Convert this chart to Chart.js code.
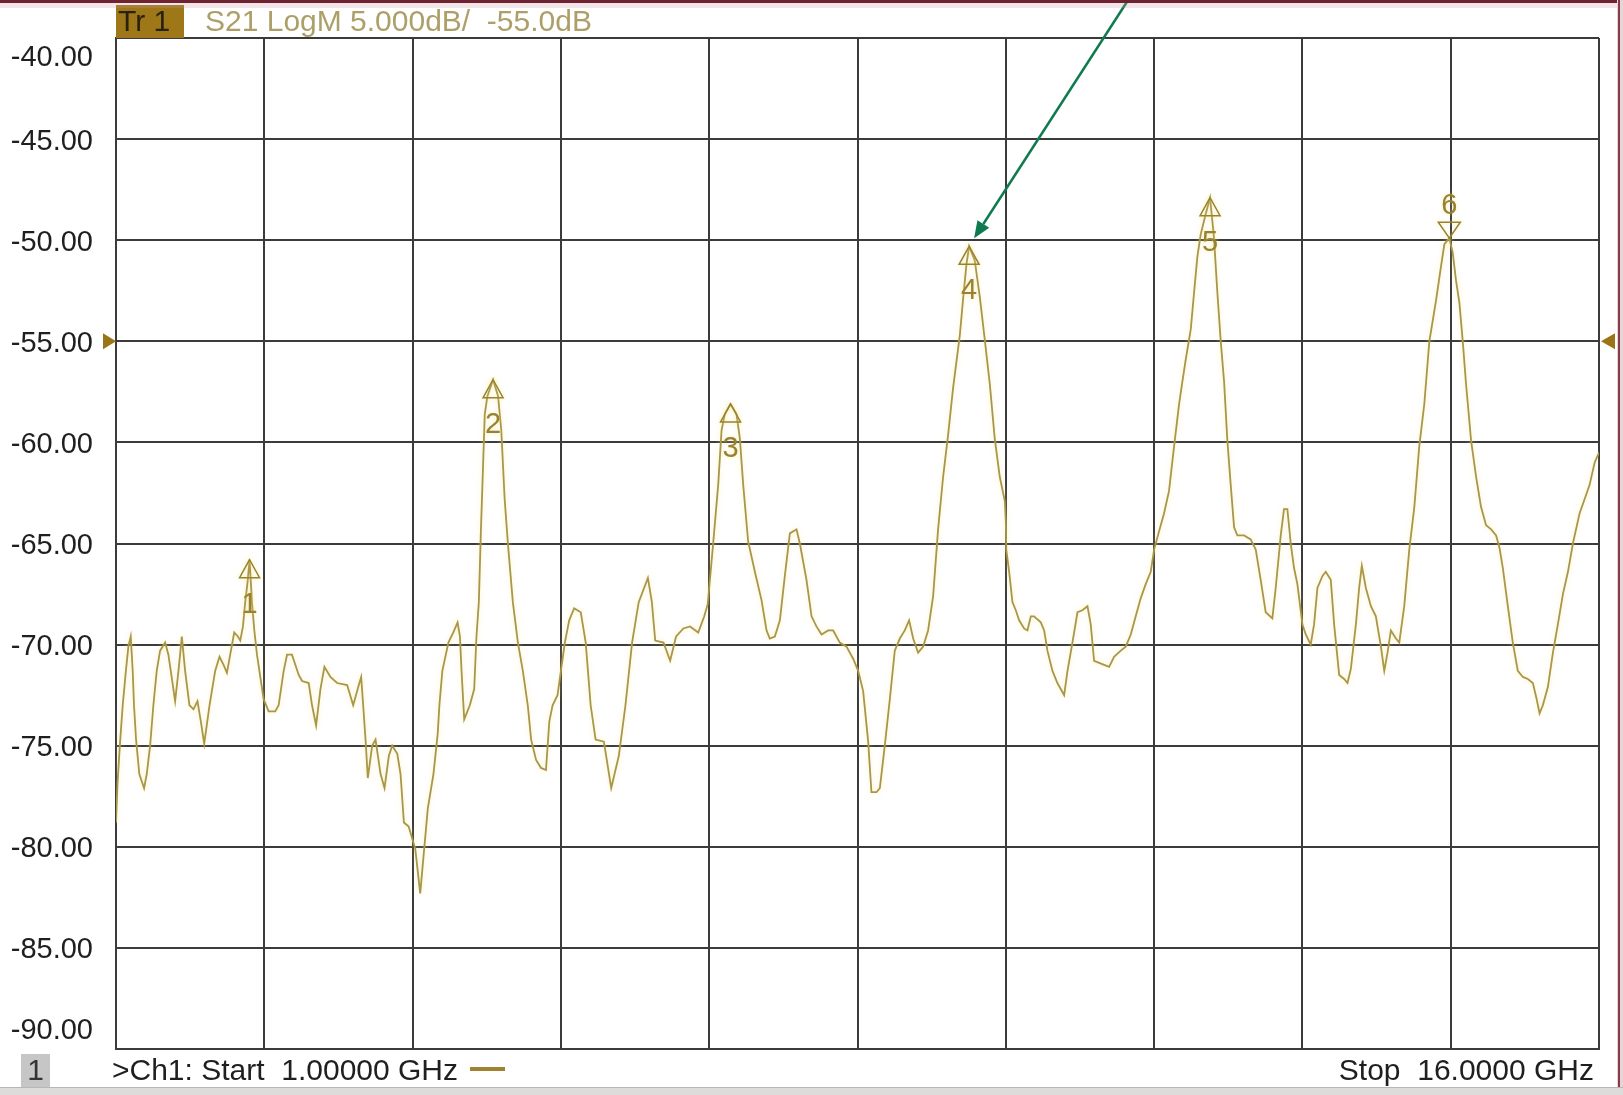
<!DOCTYPE html>
<html>
<head>
<meta charset="utf-8">
<title>S21 LogM</title>
<script src="https://cdn.jsdelivr.net/npm/chart.js@4.4.1/dist/chart.umd.min.js"></script>
<style>
  html, body { margin: 0; padding: 0; background: #ffffff; }
  #wrap { position: relative; width: 1623px; height: 1095px; overflow: hidden; }
  canvas { display: block; }
</style>
</head>
<body>
<div id="wrap"><canvas id="c" width="1623" height="1095"></canvas></div>
<script>
// Sweep settings
const startGHz = 1.0;
const stopGHz = 16.0;
const refLevelDb = -55;

// Measured trace: frequency (GHz) and S21 magnitude (dB)
const freqGHz = [
  1.000, 1.015, 1.040, 1.068, 1.100, 1.125, 1.149, 1.169, 1.182, 1.203, 1.236, 1.284, 1.311, 1.345, 1.378,
  1.412, 1.446, 1.497, 1.530, 1.554, 1.598, 1.632, 1.666, 1.699, 1.743, 1.784, 1.824, 1.858, 1.892, 1.946,
  2.003, 2.047, 2.088, 2.122, 2.155, 2.196, 2.233, 2.257, 2.284, 2.307, 2.331, 2.351, 2.375, 2.399, 2.426,
  2.493, 2.544, 2.611, 2.645, 2.696, 2.730, 2.780, 2.848, 2.882, 2.949, 2.983, 3.024, 3.068, 3.108, 3.169,
  3.236, 3.338, 3.399, 3.456, 3.480, 3.500, 3.524, 3.547, 3.591, 3.625, 3.676, 3.716, 3.760, 3.794, 3.845,
  3.878, 3.912, 3.960, 4.027, 4.077, 4.110, 4.154, 4.211, 4.254, 4.271, 4.301, 4.362, 4.412, 4.455, 4.479,
  4.495, 4.522, 4.579, 4.623, 4.646, 4.670, 4.690, 4.713, 4.730, 4.757, 4.814, 4.864, 4.897, 4.931, 4.964,
  5.014, 5.065, 5.115, 5.165, 5.199, 5.249, 5.299, 5.349, 5.383, 5.416, 5.466, 5.500, 5.540, 5.584, 5.634,
  5.701, 5.751, 5.801, 5.851, 5.935, 6.009, 6.086, 6.153, 6.220, 6.287, 6.380, 6.420, 6.454, 6.538, 6.605,
  6.665, 6.739, 6.806, 6.889, 6.950, 6.985, 7.000, 7.040, 7.091, 7.125, 7.158, 7.216, 7.276, 7.310, 7.344,
  7.394, 7.462, 7.529, 7.580, 7.613, 7.664, 7.715, 7.765, 7.816, 7.883, 7.917, 7.984, 8.035, 8.085, 8.136,
  8.203, 8.254, 8.321, 8.389, 8.456, 8.507, 8.557, 8.608, 8.641, 8.692, 8.726, 8.776, 8.827, 8.877, 8.928,
  8.978, 9.022, 9.063, 9.113, 9.164, 9.214, 9.265, 9.315, 9.366, 9.417, 9.467, 9.535, 9.568, 9.602, 9.629,
  9.686, 9.737, 9.787, 9.838, 9.888, 9.939, 9.990, 10.000, 10.005, 10.034, 10.067, 10.101, 10.135, 10.185, 10.219,
  10.253, 10.286, 10.354, 10.388, 10.421, 10.472, 10.522, 10.590, 10.624, 10.674, 10.725, 10.775, 10.826, 10.859, 10.893,
  10.944, 10.994, 11.045, 11.095, 11.163, 11.213, 11.264, 11.314, 11.365, 11.416, 11.466, 11.500, 11.550, 11.601, 11.651,
  11.702, 11.753, 11.786, 11.820, 11.871, 11.904, 11.938, 11.972, 12.022, 12.066, 12.106, 12.140, 12.174, 12.208, 12.241,
  12.275, 12.309, 12.342, 12.410, 12.477, 12.528, 12.578, 12.629, 12.696, 12.730, 12.781, 12.814, 12.848, 12.882, 12.915,
  12.949, 13.000, 13.034, 13.084, 13.118, 13.152, 13.203, 13.236, 13.287, 13.321, 13.372, 13.422, 13.456, 13.490, 13.541,
  13.574, 13.601, 13.642, 13.693, 13.743, 13.794, 13.828, 13.861, 13.895, 13.946, 13.980, 14.030, 14.081, 14.132, 14.182,
  14.233, 14.284, 14.351, 14.402, 14.436, 14.486, 14.520, 14.554, 14.588, 14.622, 14.655, 14.706, 14.757, 14.807, 14.858,
  14.909, 14.959, 14.993, 15.027, 15.078, 15.128, 15.179, 15.230, 15.280, 15.331, 15.365, 15.399, 15.432, 15.483, 15.534,
  15.584, 15.635, 15.686, 15.736, 15.804, 15.855, 15.905, 15.956, 16.000
];
const s21dB = [
  -78.8, -76.9, -74.9, -73.0, -71.3, -70.1, -69.6, -71.3, -73.0, -74.7, -76.4, -77.1, -76.4, -75.0, -73.0,
  -71.3, -70.3, -69.9, -70.5, -71.3, -72.8, -71.3, -69.6, -71.3, -73.0, -73.2, -72.8, -73.8, -74.9, -73.0,
  -71.3, -70.6, -71.0, -71.4, -70.5, -69.4, -69.6, -69.8, -69.1, -67.9, -66.9, -65.8, -67.9, -69.3, -70.5,
  -72.7, -73.3, -73.3, -73.0, -71.3, -70.5, -70.5, -71.5, -71.8, -71.9, -73.0, -74.0, -72.2, -71.1, -71.6,
  -71.9, -72.0, -73.0, -72.0, -71.6, -73.0, -74.7, -76.6, -75.0, -74.7, -76.4, -77.1, -75.5, -75.0, -75.4,
  -76.4, -78.8, -79.0, -80.1, -82.3, -80.5, -78.1, -76.4, -74.4, -73.0, -71.3, -69.9, -69.4, -68.9, -69.6,
  -71.3, -73.7, -73.0, -72.2, -69.6, -67.9, -64.5, -61.1, -58.6, -57.7, -56.9, -57.7, -59.4, -62.8, -65.0,
  -67.9, -69.9, -71.3, -73.0, -74.7, -75.7, -76.1, -76.2, -73.8, -73.0, -72.5, -71.3, -69.9, -68.8, -68.2,
  -68.4, -69.9, -73.0, -74.7, -74.8, -77.1, -75.5, -73.0, -69.9, -67.9, -66.7, -67.9, -69.8, -69.9, -70.8,
  -69.6, -69.2, -69.1, -69.4, -68.6, -68.0, -67.2, -65.0, -62.1, -59.4, -58.6, -58.1, -58.6, -59.8, -62.1,
  -64.9, -66.4, -67.8, -69.3, -69.7, -69.6, -68.8, -66.6, -64.5, -64.3, -65.0, -66.8, -68.6, -69.1, -69.5,
  -69.3, -69.3, -69.9, -70.1, -70.7, -71.3, -72.3, -74.8, -77.3, -77.3, -77.1, -75.0, -72.7, -70.3, -69.7,
  -69.3, -68.8, -69.7, -70.4, -70.1, -69.3, -67.6, -64.3, -61.7, -59.6, -57.3, -54.7, -52.9, -51.2, -50.3,
  -51.0, -52.8, -54.9, -57.1, -59.8, -61.7, -62.9, -63.9, -65.3, -66.4, -67.9, -68.3, -68.8, -69.2, -69.3,
  -68.6, -68.6, -68.9, -69.3, -70.3, -71.3, -71.9, -72.5, -71.3, -69.9, -68.4, -68.3, -68.1, -69.0, -70.8,
  -70.9, -71.0, -71.1, -70.6, -70.3, -70.1, -69.5, -68.6, -67.7, -67.0, -66.4, -65.3, -64.4, -63.5, -62.4,
  -60.2, -58.1, -57.0, -55.9, -54.4, -52.6, -50.8, -49.7, -48.7, -47.9, -49.9, -52.6, -55.0, -57.0, -59.9,
  -62.1, -64.2, -64.6, -64.6, -64.8, -65.3, -66.8, -68.4, -68.7, -67.2, -64.6, -63.3, -63.3, -65.0, -66.2,
  -67.0, -69.0, -69.5, -70.0, -69.0, -67.2, -66.6, -66.4, -66.8, -69.0, -71.5, -71.7, -71.9, -71.2, -69.0,
  -67.2, -66.1, -67.2, -68.1, -68.6, -70.1, -71.3, -70.4, -69.3, -69.7, -69.9, -68.1, -65.3, -63.2, -60.2,
  -58.1, -55.0, -53.0, -51.3, -50.2, -49.9, -50.6, -52.0, -53.1, -55.0, -57.1, -59.9, -61.7, -63.2, -64.1,
  -64.3, -64.6, -65.2, -66.2, -68.1, -69.9, -71.3, -71.6, -71.7, -71.9, -72.6, -73.4, -73.0, -72.1, -70.4,
  -69.0, -67.5, -66.4, -65.0, -63.5, -62.8, -62.1, -61.0, -60.5
];

// Markers on the trace
const markerNames = ['1', '2', '3', '4', '5', '6'];
const markerFreq = [2.351, 4.814, 7.216, 9.629, 12.066, 14.486];
const markerDb = [-65.8, -56.9, -58.1, -50.3, -47.9, -49.9];
const activeMarker = '6';
const pointedMarker = '4';

// Axis ticks
const yTicks = [-40, -45, -50, -55, -60, -65, -70, -75, -80, -85, -90];
const xGridStepGHz = 1.5;

// Annotation texts
const traceTag = 'Tr 1';
const traceLabel = 'S21 LogM 5.000dB/  -55.0dB';
const channelTag = '1';
const startLabel = '>Ch1: Start  1.00000 GHz';
const stopLabel = 'Stop  16.0000 GHz';

const FONT = '"Liberation Sans", Arial, sans-serif';
const traceColor = '#a8964a';
const markerColor = '#968232';
const gridColor = '#3b3b3b';
const textColor = '#1f1f1f';

const points = freqGHz.map((f, i) => ({ x: f, y: s21dB[i] }));

const vnaDecor = {
  id: 'vnaDecor',
  beforeDraw(chart) {
    const { ctx, width, height } = chart;
    ctx.save();
    ctx.fillStyle = '#ffffff';
    ctx.fillRect(0, 0, width, height);
    ctx.restore();
  },
  beforeDatasetDraw(chart) {
    const ctx = chart.ctx;
    ctx.save();
    ctx.shadowColor = 'rgba(248, 226, 120, 0.55)';
    ctx.shadowBlur = 5;
  },
  afterDatasetDraw(chart) {
    chart.ctx.restore();
  },
  afterDraw(chart) {
    const { ctx, chartArea: a, scales: { x, y }, width, height } = chart;
    ctx.save();

    // Y tick labels (end labels kept inside the grid height)
    ctx.font = '29px ' + FONT;
    ctx.fillStyle = textColor;
    ctx.textAlign = 'right';
    ctx.textBaseline = 'alphabetic';
    yTicks.forEach(v => {
      let cy = y.getPixelForValue(v);
      if (v === y.max) cy += 17;
      else if (v === y.min) cy -= 21;
      ctx.fillText(v.toFixed(2), a.left - 23, cy + 10.5);
    });

    // Reference level arrows
    const ry = y.getPixelForValue(refLevelDb);
    ctx.fillStyle = '#9a7417';
    ctx.beginPath();
    ctx.moveTo(a.left, ry); ctx.lineTo(a.left - 13, ry - 8); ctx.lineTo(a.left - 13, ry + 8); ctx.closePath();
    ctx.fill();
    ctx.beginPath();
    ctx.moveTo(a.right + 2, ry); ctx.lineTo(a.right + 16, ry - 8); ctx.lineTo(a.right + 16, ry + 8); ctx.closePath();
    ctx.fill();

    // Trace header
    ctx.fillStyle = '#9e7718';
    ctx.fillRect(a.left, 5, 68, a.top - 5);
    ctx.font = '30px ' + FONT;
    ctx.textAlign = 'left';
    ctx.fillStyle = '#2a2210';
    ctx.fillText(traceTag, a.left + 2, 31);
    ctx.fillStyle = '#ad9f68';
    ctx.fillText(traceLabel, a.left + 89, 31);

    // Footer
    ctx.fillStyle = '#c6c6c6';
    ctx.fillRect(21, 1054, 29, 33);
    ctx.fillStyle = '#333333';
    ctx.textAlign = 'center';
    ctx.fillText(channelTag, 35.5, 1080);
    ctx.fillStyle = textColor;
    ctx.textAlign = 'left';
    ctx.fillText(startLabel, a.left - 4, 1080);
    const sw = ctx.measureText(startLabel).width;
    ctx.strokeStyle = '#a08232';
    ctx.lineWidth = 4;
    ctx.beginPath();
    ctx.moveTo(a.left - 4 + sw + 12, 1069); ctx.lineTo(a.left - 4 + sw + 47, 1069);
    ctx.stroke();
    ctx.textAlign = 'right';
    ctx.fillText(stopLabel, a.right - 5, 1080);

    // Markers
    ctx.shadowColor = 'rgba(248, 226, 120, 0.6)';
    ctx.shadowBlur = 4;
    ctx.strokeStyle = markerColor;
    ctx.fillStyle = markerColor;
    ctx.lineWidth = 1.5;
    ctx.font = '29px ' + FONT;
    ctx.textAlign = 'center';
    markerNames.forEach((name, i) => {
      const px = x.getPixelForValue(markerFreq[i]);
      const py = y.getPixelForValue(markerDb[i]);
      ctx.beginPath();
      if (name === activeMarker) {
        ctx.moveTo(px, py); ctx.lineTo(px - 11, py - 16); ctx.lineTo(px + 11, py - 16); ctx.closePath();
        ctx.stroke();
        ctx.fillText(name, px, py - 24);
      } else {
        ctx.moveTo(px, py); ctx.lineTo(px - 10, py + 18); ctx.lineTo(px + 10, py + 18); ctx.closePath();
        ctx.stroke();
        ctx.fillText(name, px, py + 53);
      }
    });
    ctx.shadowBlur = 0;
    ctx.shadowColor = 'transparent';

    // Pointer arrow to the highlighted marker
    const mi = markerNames.indexOf(pointedMarker);
    const tx = x.getPixelForValue(markerFreq[mi]) + 5;
    const ty = y.getPixelForValue(markerDb[mi]) - 8;
    const sx = tx + 154, sy = 0;
    const ang = Math.atan2(ty - sy, tx - sx);
    const hl = 17, hw = 7;
    const bx = tx - hl * Math.cos(ang), by = ty - hl * Math.sin(ang);
    ctx.strokeStyle = '#0e7a4e';
    ctx.fillStyle = '#0e7a4e';
    ctx.lineWidth = 2.5;
    ctx.beginPath(); ctx.moveTo(sx, sy); ctx.lineTo(bx, by); ctx.stroke();
    ctx.beginPath();
    ctx.moveTo(tx, ty);
    ctx.lineTo(bx + hw * Math.sin(ang), by - hw * Math.cos(ang));
    ctx.lineTo(bx - hw * Math.sin(ang), by + hw * Math.cos(ang));
    ctx.closePath(); ctx.fill();

    // Window frame
    ctx.fillStyle = '#6f2230';
    ctx.fillRect(0, 0, width, 3);
    ctx.fillStyle = 'rgba(200,150,160,0.25)';
    ctx.fillRect(0, 3, width, 5);
    ctx.fillStyle = '#e2d6d8';
    ctx.fillRect(width - 6, 0, 6, height);
    ctx.fillStyle = '#8b3a46';
    ctx.fillRect(width - 5, 0, 2, height);
    ctx.fillStyle = '#dedbdb';
    ctx.fillRect(0, height - 8, width, 8);
    ctx.fillStyle = '#b9b5b5';
    ctx.fillRect(0, height - 8, width, 1);
    ctx.restore();
  }
};

new Chart(document.getElementById('c'), {
  type: 'line',
  data: {
    datasets: [{
      label: 'S21',
      data: points,
      borderColor: traceColor,
      borderWidth: 1.8,
      pointRadius: 0,
      tension: 0,
      fill: false
    }]
  },
  options: {
    responsive: false,
    animation: false,
    devicePixelRatio: 1,
    layout: { padding: { left: 116, top: 38, right: 24, bottom: 46 } },
    plugins: { legend: { display: false }, tooltip: { enabled: false } },
    scales: {
      x: {
        type: 'linear',
        min: startGHz,
        max: stopGHz,
        ticks: { display: false, stepSize: xGridStepGHz },
        grid: { color: gridColor, lineWidth: 2, drawTicks: false },
        border: { color: gridColor, width: 2 }
      },
      y: {
        type: 'linear',
        min: yTicks[yTicks.length - 1],
        max: yTicks[0],
        ticks: { display: false, stepSize: 5 },
        grid: { color: gridColor, lineWidth: 2, drawTicks: false },
        border: { color: gridColor, width: 2 }
      }
    }
  },
  plugins: [vnaDecor]
});
</script>
</body>
</html>
